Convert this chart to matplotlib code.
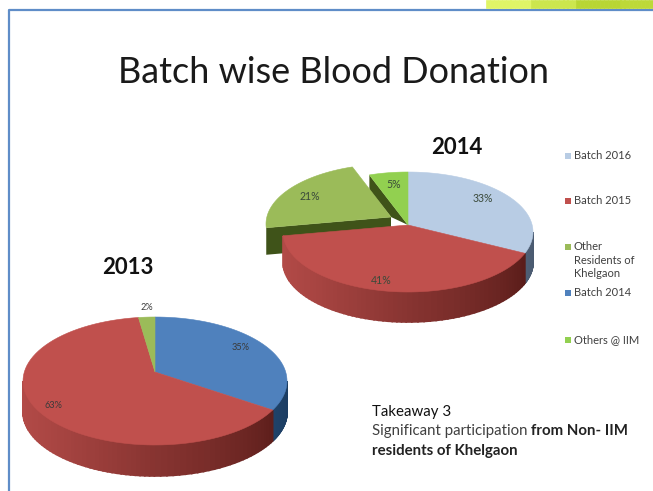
import matplotlib
matplotlib.use('Agg')
import matplotlib.pyplot as plt
import numpy as np

plt.rcParams['font.family'] = ['Lato', 'DejaVu Sans']

values_2013 = [35, 63, 2]
labels_2013 = ['35%', '63%', '2%']
colors_2013 = ['#4f81bd', '#c0504d', '#9bbb59']
values_2014 = [33, 41, 21, 5]
labels_2014 = ['33%', '41%', '21%', '5%']
colors_2014 = ['#b8cce4', '#c0504d', '#9bbb59', '#92d050']
legend_names = ['Batch 2016', 'Batch 2015', 'Other\nResidents of\nKhelgaon', 'Batch 2014', 'Others @ IIM']
legend_colors = ['#b8cce4', '#c0504d', '#9bbb59', '#4f81bd', '#92d050']

W, H = 653, 491
fig = plt.figure(figsize=(W / 100, H / 100), dpi=100)
ax = fig.add_axes([0, 0, 1, 1])
ax.set_xlim(0, W)
ax.set_ylim(H, 0)
ax.axis('off')


def rim(pie, deg):
    # right half is pushed back a bit, the pies are drawn in perspective
    deg = np.asarray(deg, dtype=float)
    a = np.radians(deg)
    a = a + np.where(deg < 180, np.radians(9.5) * np.sin(2 * a), 0)
    return pie['cx'] + pie['rx'] * np.sin(a), pie['cy'] - pie['ry'] * np.cos(a)


def top_slice(pie, start, stop, color, dx=0, dy=0, z=5):
    ang = np.linspace(start, stop, 80)
    x, y = rim(pie, ang)
    x = np.r_[pie['ax'], x] + dx
    y = np.r_[pie['ay'], y] + dy
    ax.fill(x, y, color=color, lw=0.4, zorder=z)


def wall(pie, start, stop, light, dark, z=3):
    # side of the pie, cut in strips to get the shading from left to right
    start, stop = max(start, 90), min(stop, 270)
    if stop <= start:
        return
    light = np.array(matplotlib.colors.to_rgb(light))
    dark = np.array(matplotlib.colors.to_rgb(dark))
    ang = np.linspace(start, stop, 70)
    x, y = rim(pie, ang)
    for i in range(len(ang) - 1):
        t = 1 - (np.sin(np.radians(ang[i])) + 1) / 2
        c = dark + (light - dark) * t ** 0.8
        xs = [x[i], x[i + 1], x[i + 1], x[i]]
        ys = [y[i], y[i + 1], y[i + 1] + pie['depth'], y[i] + pie['depth']]
        ax.fill(xs, ys, color=c, lw=1.2, zorder=z)


def angles(values):
    edges = np.cumsum([0] + values) / sum(values) * 360
    return edges[:-1], edges[1:]


# slide frame
ax.plot([8.5, 8.5, W], [H, 9.5, 9.5], color='#5f8dc8', lw=1.6, zorder=1)
band = np.array([[0.88, 0.96, 0.40], [0.80, 0.90, 0.30], [0.72, 0.84, 0.20], [0.74, 0.85, 0.22]])
for i, bx in enumerate(np.linspace(486, W, 42)[:-1]):
    ax.fill([bx, bx + 4.2, bx + 4.2, bx], [0, 0, 8, 8],
            color=band[min(i // 11, 3)], lw=0.5, zorder=1)

ax.text(333, 72, 'Batch wise Blood Donation', fontsize=25.9, color='#1a1a1a',
        ha='center', va='center')

# 2013
p13 = dict(cx=155, cy=381, rx=132, ry=64, ax=155, ay=372, depth=31)
s13, e13 = angles(values_2013)
wall(p13, s13[0], e13[0], '#2f5f90', '#1c3d62')
wall(p13, s13[1], e13[1], '#b24a47', '#4f1714')
for a, b, c in zip(s13, e13, colors_2013):
    top_slice(p13, a, b, c)
for txt, tx, ty in zip(labels_2013, [241, 53, 147], [347, 406, 308]):
    ax.text(tx, ty, txt, fontsize=6.6, ha='center', va='center', color='#3a3a3a', zorder=8)
ax.text(128, 267, '2013', fontsize=16, fontweight='bold', ha='center', va='center', color='#111111')

# 2014
p14 = dict(cx=408, cy=232, rx=125, ry=60, ax=408, ay=225, depth=30)
s14, e14 = angles(values_2014)
off = (-17, -8)
apex = (p14['ax'] + off[0], p14['ay'] + off[1])
cut = 27
# dark cut faces of the pulled out slice and of the gap
rx0, ry0 = rim(p14, s14[2])
ax.fill([rx0 + off[0], apex[0], apex[0], rx0 + off[0]],
        [ry0 + off[1], apex[1], apex[1] + cut, ry0 + off[1] + cut], color='#3f5319', lw=0, zorder=2)
rx1, ry1 = rim(p14, s14[3])
ax.fill([rx1, p14['ax'], apex[0], rx1], [ry1, p14['ay'], apex[1], ry1 + 15],
        color='#3f5319', lw=0, zorder=2)
wall(p14, s14[0], e14[0], '#72849c', '#4a5a70', z=3)
wall(p14, s14[1], e14[1], '#b24a47', '#4f1714', z=3)
top_slice(p14, s14[0], e14[0], colors_2014[0])
top_slice(p14, s14[1], e14[1], colors_2014[1])
top_slice(p14, s14[2], e14[2], colors_2014[2], off[0], off[1])
top_slice(p14, s14[3], e14[3], colors_2014[3])
for txt, tx, ty in zip(labels_2014, [483, 381, 310, 394], [199, 280, 196, 185]):
    ax.text(tx, ty, txt, fontsize=7.6, ha='center', va='center', color='#3a4a3a', zorder=8)
ax.text(457, 147, '2014', fontsize=16, fontweight='bold', ha='center', va='center', color='#111111')

# legend
for name, c, ly in zip(legend_names, legend_colors, [156, 201, 247, 293, 340]):
    ax.fill([565, 570.5, 570.5, 565], [ly - 3, ly - 3, ly + 2.5, ly + 2.5], color=c, lw=0)
    ax.text(574, ly - 6, name, fontsize=8, va='top', ha='left', color='#404040', linespacing=1.3)

# takeaway
ax.text(372, 412, 'Takeaway 3', fontsize=10.8, va='center', color='#111111')
t1 = ax.text(372, 431, 'Significant participation ', fontsize=10.8, va='center', color='#404040')
ax.annotate('from Non- IIM', xy=(1, 0.5), xycoords=t1, va='center', fontsize=10.8,
            fontweight='bold', color='#222222')
ax.text(372, 451, 'residents of Khelgaon', fontsize=10.8, fontweight='bold', va='center', color='#222222')

fig.savefig('out.png', dpi=100, facecolor='white')
